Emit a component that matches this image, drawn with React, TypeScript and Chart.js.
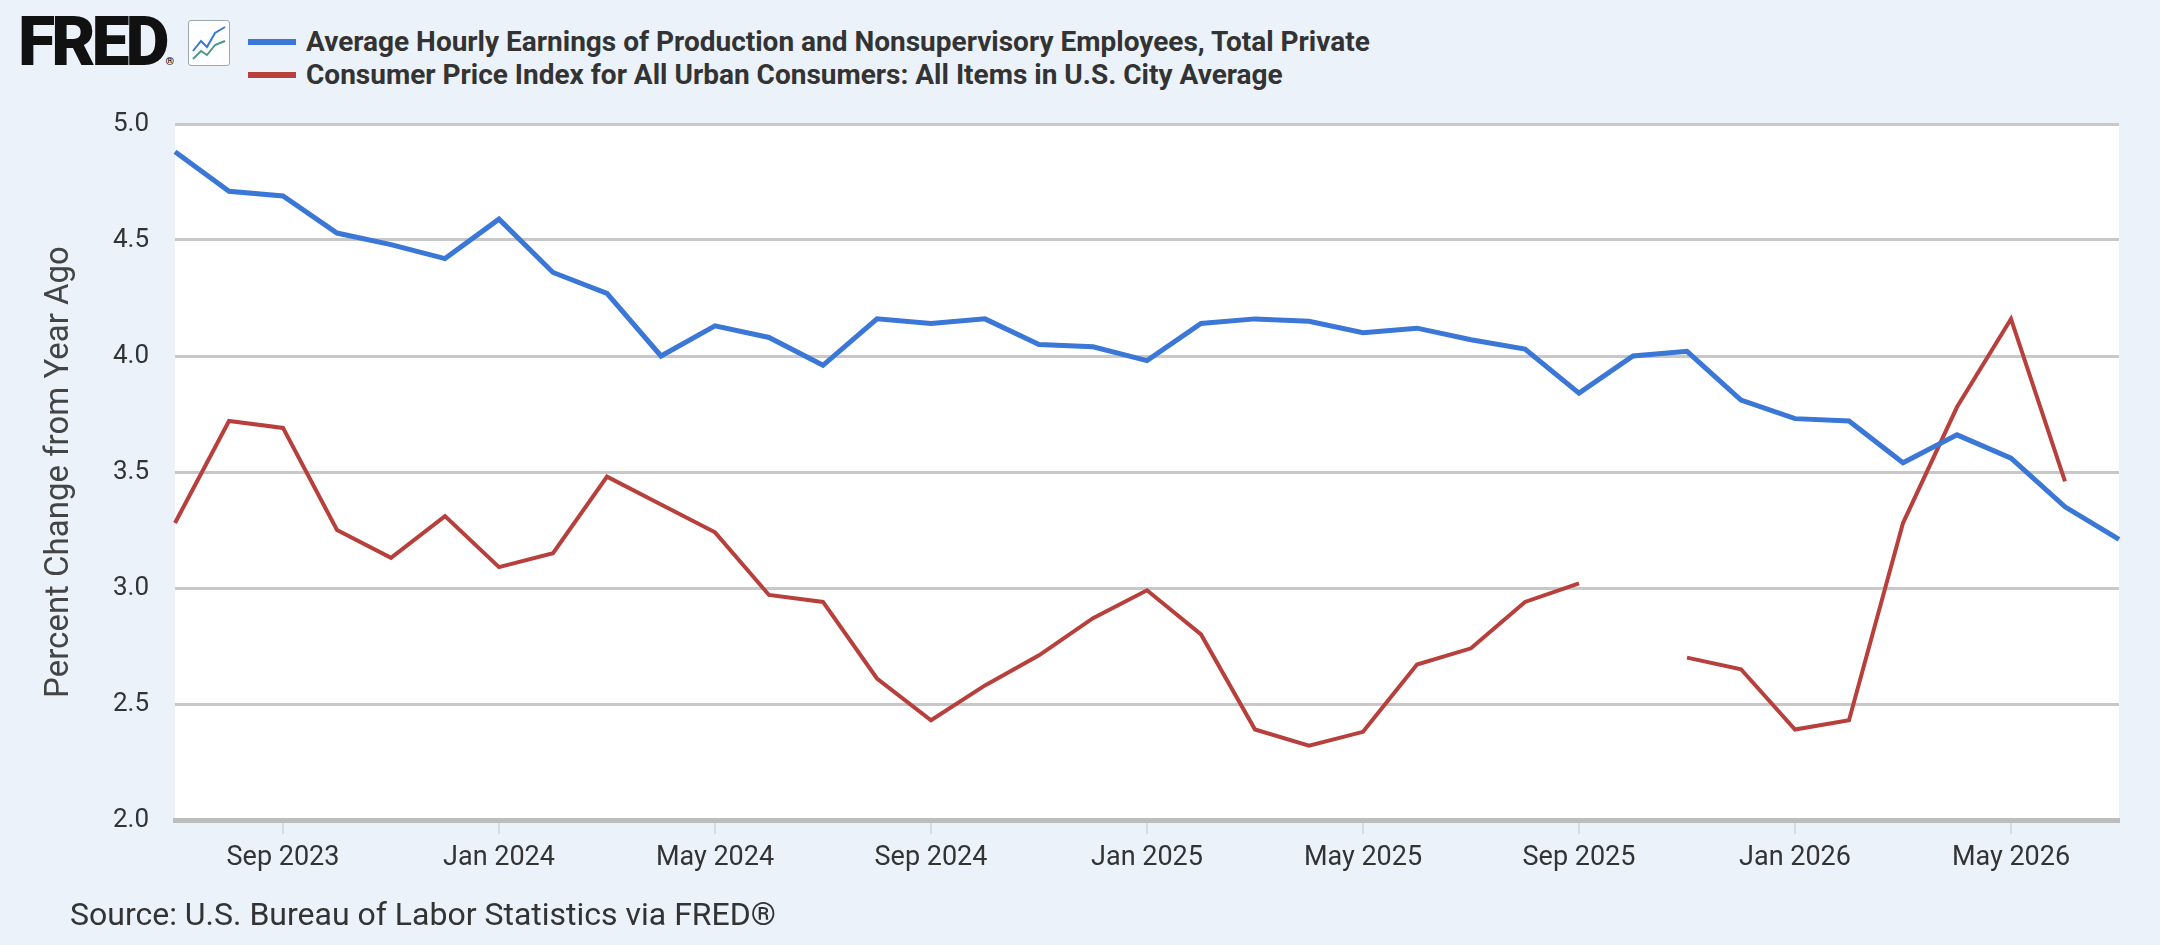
import React, { useEffect, useRef } from "react";
import { Chart, registerables } from "chart.js";
Chart.register(...registerables);

const months = ["Jul 2023","Aug 2023","Sep 2023","Oct 2023","Nov 2023","Dec 2023","Jan 2024","Feb 2024","Mar 2024","Apr 2024","May 2024","Jun 2024","Jul 2024","Aug 2024","Sep 2024","Oct 2024","Nov 2024","Dec 2024","Jan 2025","Feb 2025","Mar 2025","Apr 2025","May 2025","Jun 2025","Jul 2025","Aug 2025","Sep 2025","Oct 2025","Nov 2025","Dec 2025","Jan 2026","Feb 2026","Mar 2026","Apr 2026","May 2026","Jun 2026","Jul 2026"];
const earnings = [4.88,4.71,4.69,4.53,4.48,4.42,4.59,4.36,4.27,4.0,4.13,4.08,3.96,4.16,4.14,4.16,4.05,4.04,3.98,4.14,4.16,4.15,4.1,4.12,4.07,4.03,3.84,4.0,4.02,3.81,3.73,3.72,3.54,3.66,3.56,3.35,3.21];
const cpi = [3.28,3.72,3.69,3.25,3.13,3.31,3.09,3.15,3.48,3.36,3.24,2.97,2.94,2.61,2.43,2.58,2.71,2.87,2.99,2.8,2.39,2.32,2.38,2.67,2.74,2.94,3.02,null,2.7,2.65,2.39,2.43,3.28,3.78,4.16,3.46,null];
const shownTicks = ["Sep","Jan","May"];
const seriesNames = ["Average Hourly Earnings of Production and Nonsupervisory Employees, Total Private","Consumer Price Index for All Urban Consumers: All Items in U.S. City Average"];
const colors = ["#3a77d6","#b8403c"];

const isShown = (i: number) => shownTicks.includes(months[i].slice(0, 3));

export default function App() {
  const ref = useRef<HTMLCanvasElement>(null);
  useEffect(() => {
    const bg = {
      id: "bg",
      beforeDraw(c: any) {
        const { ctx, chartArea: a } = c;
        ctx.save();
        ctx.fillStyle = "#ffffff";
        ctx.fillRect(a.left, a.top, a.right - a.left, a.bottom - a.top);
        ctx.restore();
      },
    };
    const chart = new Chart(ref.current!, {
      type: "line",
      data: {
        labels: months,
        datasets: [
          { label: seriesNames[0], data: earnings, borderColor: colors[0], borderWidth: 5, pointRadius: 0, tension: 0 },
          { label: seriesNames[1], data: cpi, borderColor: colors[1], borderWidth: 4, pointRadius: 0, tension: 0, spanGaps: false },
        ],
      },
      options: {
        animation: false,
        responsive: false,
        maintainAspectRatio: false,
        layout: { padding: { top: 124, right: 41, left: 36, bottom: 0 } },
        plugins: { legend: { display: false }, tooltip: { enabled: false } },
        scales: {
          x: {
            type: "category",
            offset: false,
            border: { display: true, color: "#bdbdbd", width: 5 },
            grid: {
              drawOnChartArea: false,
              tickLength: 14,
              color: (ctx: any) => (isShown(ctx.index) ? "#d6dde6" : "rgba(0,0,0,0)"),
              lineWidth: 2,
            },
            ticks: {
              autoSkip: false,
              maxRotation: 0,
              padding: 8,
              color: "#333",
              font: { family: "Roboto", size: 27 },
              callback: (_v: any, i: number) => (isShown(i) ? months[i] : ""),
            },
            afterFit: (s: any) => { s.height = 125; },
          },
          y: {
            min: 2,
            max: 5,
            border: { display: false },
            grid: { color: "#c8c8c8", lineWidth: 3, drawTicks: false },
            ticks: { stepSize: 0.5, padding: 26, color: "#333", font: { family: "Roboto", size: 26 }, callback: (v: any) => Number(v).toFixed(1) },
            title: { display: true, text: "Percent Change from Year Ago", color: "#444", font: { family: "Roboto", size: 33 }, padding: { bottom: 0 } },
            afterFit: (s: any) => { s.width = 139; },
          },
        },
      },
      plugins: [bg],
    } as any);
    return () => chart.destroy();
  }, []);

  const legendRow = (i: number, top: number) => (
    <div style={{ position: "absolute", left: 248, top, display: "flex", alignItems: "center" }}>
      <div style={{ width: 48, height: 6, background: colors[i], marginRight: 10 }} />
      <span style={{ fontFamily: "Roboto", fontWeight: 700, fontSize: 28, color: "#333" }}>{seriesNames[i]}</span>
    </div>
  );

  return (
    <div style={{ position: "fixed", left: 0, top: 0, width: 2160, height: 945, background: "#ebf2fa", overflow: "hidden" }}>
      <div style={{ position: "absolute", left: 18, top: 2, fontFamily: "Roboto", fontWeight: 900, fontSize: 68, letterSpacing: -4, color: "#111" }}>FRED<span style={{ fontSize: 11, letterSpacing: 0 }}>®</span></div>
      <div style={{ position: "absolute", left: 188, top: 20, width: 40, height: 44, background: "#fff", border: "1px solid #9aa", borderRadius: 3 }}>
        <svg width="40" height="44"><polyline points="4,30 12,20 18,26 26,12 36,6" fill="none" stroke="#3a77d6" strokeWidth="2"/><polyline points="4,38 12,30 18,34 26,24 36,20" fill="none" stroke="#4a9a8a" strokeWidth="2"/></svg>
      </div>
      {legendRow(0, 25)}
      {legendRow(1, 58)}
      <canvas ref={ref} width={2160} height={945} style={{ position: "absolute", left: 0, top: 0 }} />
      <div style={{ position: "absolute", left: 70, top: 895, fontFamily: "Roboto", fontSize: 32, color: "#333" }}>Source: U.S. Bureau of Labor Statistics via FRED®</div>
    </div>
  );
}
